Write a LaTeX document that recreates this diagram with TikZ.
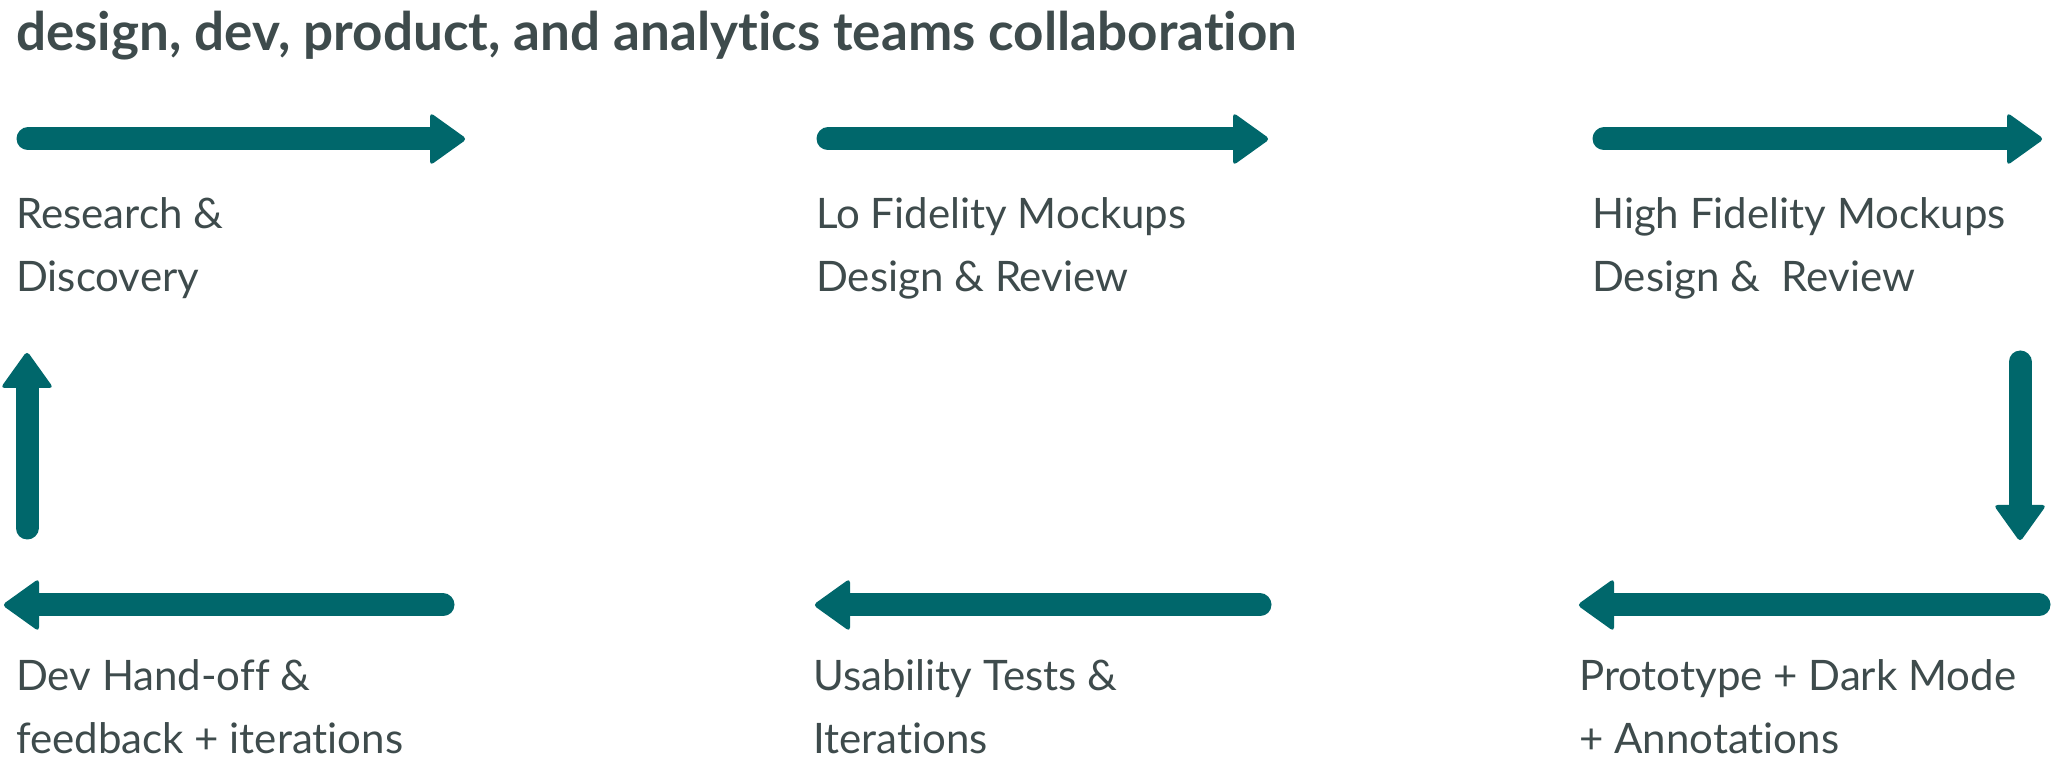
\documentclass[tikz,border=0pt]{standalone}
\usepackage{fontspec}
\setmainfont[Ligatures={NoCommon}]{Lato}
\usetikzlibrary{calc}
\definecolor{tealc}{HTML}{00676B}
\definecolor{inkc}{HTML}{3E4B4C}
\tikzset{
  shaft/.style={draw=tealc,line width=23pt,line cap=round},
  headfill/.style={fill=tealc,rounded corners=4pt},
  steplabel/.style={anchor=base west,inner sep=0pt,align=left,text=inkc,
    font=\fontsize{42pt}{63pt}\selectfont},
  titlelabel/.style={anchor=base west,inner sep=0pt,text=inkc,
    font=\fontsize{53pt}{60pt}\selectfont\bfseries}
}
% #1 start coordinate, #2 tip coordinate, #3 direction angle
\newcommand\flowarrow[3]{%
  \draw[shaft] (#1) -- ($(#2)+(#3:-30pt)$);
  \begin{scope}[shift={(#2)},rotate=#3]
    \fill[headfill] (-37,0) -- (-37,26.5) -- (0,0) -- (-37,-26.5) -- cycle;
  \end{scope}}
\begin{document}
\begin{tikzpicture}[x=1pt,y=1pt]
\useasboundingbox (0,0) rectangle (2064,773);
\node[titlelabel] (title) at (16,722) {design, dev, product, and analytics teams collaboration};
% top row
\coordinate (a1s) at (28,634);   \coordinate (a1t) at (467,634);
\coordinate (a2s) at (828,634);  \coordinate (a2t) at (1270,634);
\coordinate (a3s) at (1604,634); \coordinate (a3t) at (2044,634);
% right vertical
\coordinate (a4s) at (2020,411); \coordinate (a4t) at (2020,231);
% bottom row
\coordinate (a5s) at (2039,168); \coordinate (a5t) at (1577,168);
\coordinate (a6s) at (1260,168); \coordinate (a6t) at (813,168);
\coordinate (a7s) at (443,168);  \coordinate (a7t) at (2,168);
% left vertical
\coordinate (a8s) at (27,245);   \coordinate (a8t) at (27,422);
\flowarrow{a1s}{a1t}{0}
\flowarrow{a2s}{a2t}{0}
\flowarrow{a3s}{a3t}{0}
\flowarrow{a4s}{a4t}{-90}
\flowarrow{a5s}{a5t}{180}
\flowarrow{a6s}{a6t}{180}
\flowarrow{a7s}{a7t}{180}
\flowarrow{a8s}{a8t}{90}
% labels (base anchor = baseline of the last line)
\node[steplabel] (research) at (16,481) {Research \&\\Discovery};
\node[steplabel] (lofi) at (816,481) {Lo Fidelity Mockups\\Design \& Review};
\node[steplabel] (hifi) at (1592,481) {High Fidelity Mockups\\Design \&\ \ Review};
\node[steplabel] (proto) at (1579,19) {Prototype + Dark Mode\\+ Annotations};
\node[steplabel] (usab) at (813,19) {Usability Tests \&\\Iterations};
\node[steplabel] (devho) at (16,19) {Dev Hand-off \&\\feedback + iterations};
\end{tikzpicture}
\end{document}
